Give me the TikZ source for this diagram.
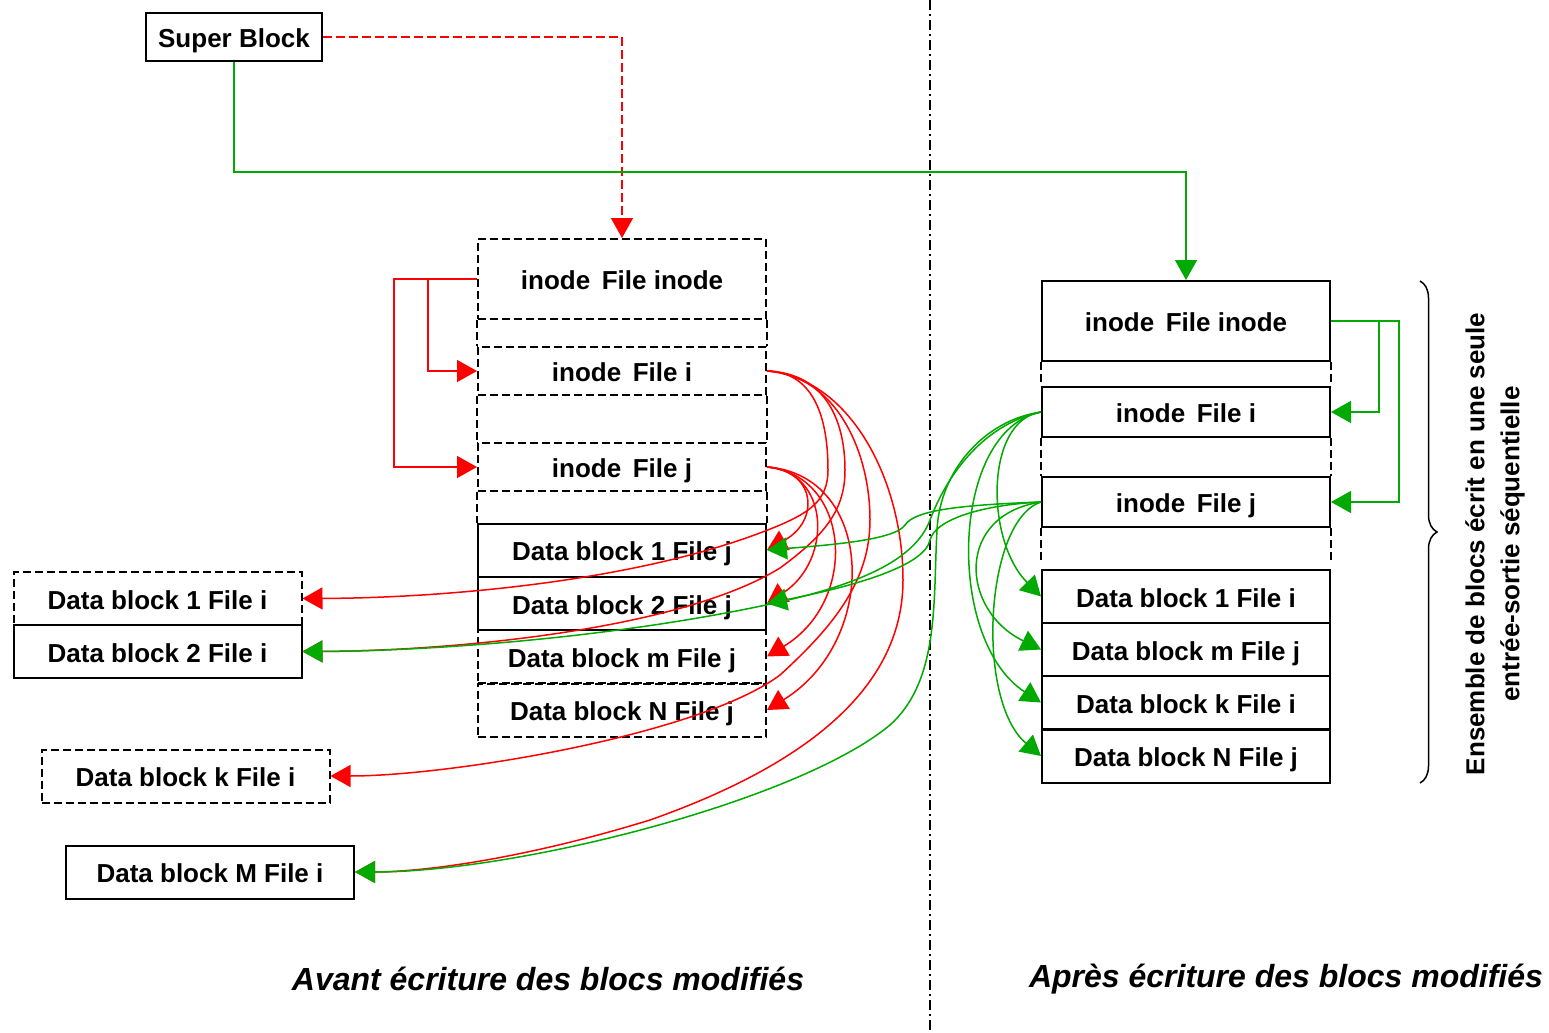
\documentclass[tikz,border=0pt]{standalone}
\usepackage{fontspec}
\setmainfont{Liberation Sans}
\usetikzlibrary{arrows.meta}
\usetikzlibrary{decorations.pathreplacing}
\tikzset{endarrow/.style = {-{Triangle[length=10pt, width=11pt]}}}
\tikzset{block/.style = {draw, line width=1pt, inner sep=0pt,
                         minimum width=144pt, minimum height=26.5pt,
                         text height=11.5pt, text depth=1pt,
                         font=\bfseries\fontsize{13}{15}\selectfont}}
\tikzset{oldblock/.style = {block, dash pattern=on 4pt off 2pt}}
\tikzset{rlink/.style = {mred, line width=0.75pt, endarrow}}
\tikzset{glink/.style = {mgreen, line width=0.75pt, endarrow}}
\definecolor{mred}{rgb}{1, 0, 0}
\definecolor{mgreen}{RGB}{0, 170, 0}

\begin{document}
\begin{tikzpicture}[x=0.5pt, y=-0.5pt]
    \useasboundingbox (0, 0) rectangle (1549, 1033);

    \node [block, minimum width=88pt, minimum height=24pt] (super) at (234, 37) {Super Block};

    % avant
    \node [oldblock, minimum height=40pt] (av-inodes) at (622, 279) {inode\, File inode};
    \node [oldblock, minimum height=24pt] (av-fi) at (622, 371) {inode\, File i};
    \node [oldblock, minimum height=24pt] (av-fj) at (622, 467) {inode\, File j};
    \node [block] (av-d1j) at (622, 550) {Data block 1 File j};
    \node [block] (av-d2j) at (622, 603.5) {Data block 2 File j};
    \node [oldblock] (av-dmj) at (622, 656.5) {Data block m File j};
    \node [oldblock] (av-dNj) at (622, 710) {Data block N File j};

    \node [oldblock] (av-d1i) at (157.5, 598.5) {Data block 1 File i};
    \node [block] (av-d2i) at (157.5, 651.5) {Data block 2 File i};
    \node [oldblock] (av-dki) at (185.5, 776) {Data block k File i};
    \node [block] (av-dMi) at (210, 872) {Data block M File i};

    \draw [dash pattern=on 4pt off 2pt, line width=1pt] (av-inodes.south west) -- (av-fi.north west)
        (av-inodes.south east) -- (av-fi.north east)
        (av-fi.south west) -- (av-fj.north west) (av-fi.south east) -- (av-fj.north east)
        (av-fj.south west) -- (av-d1j.north west) (av-fj.south east) -- (av-d1j.north east);

    % apres
    \node [block, minimum height=40pt] (ap-inodes) at (1186, 321) {inode\, File inode};
    \node [block, minimum height=25pt] (ap-fi) at (1186, 412) {inode\, File i};
    \node [block, minimum height=25pt] (ap-fj) at (1186, 502) {inode\, File j};
    \node [block] (ap-d1i) at (1186, 596.5) {Data block 1 File i};
    \node [block] (ap-dmj) at (1186, 649.5) {Data block m File j};
    \node [block] (ap-dki) at (1186, 702.5) {Data block k File i};
    \node [block] (ap-dNj) at (1186, 756) {Data block N File j};

    \draw [dash pattern=on 4pt off 2pt, line width=1pt] (ap-inodes.south west) -- (ap-fi.north west)
        (ap-inodes.south east) -- (ap-fi.north east)
        (ap-fi.south west) -- (ap-fj.north west) (ap-fi.south east) -- (ap-fj.north east)
        (ap-fj.south west) -- ++(0, 33) (ap-fj.south east) -- ++(0, 33);

    \draw [dash pattern=on 5pt off 2pt on 1pt off 2pt, line width=0.6pt] (930, 0) -- (930, 1033);

    \draw [decorate, decoration={brace, amplitude=8.5pt}, line width=0.75pt] (1420, 281) -- (1420, 783);
    \node [rotate=90, align=center, font=\bfseries\fontsize{13}{17.5}\selectfont] (ensemble) at (1495, 544)
        {Ensemble de blocs écrit en une seule\\entrée-sortie séquentielle};

    \node [font=\bfseries\itshape\fontsize{16}{19}\selectfont] (avant) at (548, 979) {Avant écriture des blocs modifiés};
    \node [font=\bfseries\itshape\fontsize{16}{19}\selectfont] (apres) at (1286, 979) {Après écriture des blocs modifiés};

    % super block
    \draw [rlink, dash pattern=on 4.5pt off 2pt] (super.east) -| (av-inodes.north);
    \draw [glink] (super.south) -- ++(0, 110) -| (ap-inodes.north);

    \draw [rlink] (av-inodes.west) -- ++(-83, 0) |- (av-fj.west);
    \draw [rlink] (av-inodes.west) -- ++(-49, 0) |- (av-fi.west);
    \draw [glink] (ap-inodes.east) -- ++(68, 0) |- (ap-fj.east);
    \draw [glink] (ap-inodes.east) -- ++(48, 0) |- (ap-fi.east);

    % inode File i, avant
    \draw [rlink] (av-fi.east) .. controls (815, 372) and (828, 420) .. (828, 470)
        .. controls (828, 500) and (810, 512) .. (780, 525)
        .. controls (650, 580) and (450, 598) .. (av-d1i.east);
    \draw [rlink] (av-fi.east) .. controls (825, 373) and (845, 420) .. (845, 470)
        .. controls (845, 510) and (825, 535) .. (780, 568)
        .. controls (680, 630) and (450, 651) .. (av-d2i.east);
    \draw [rlink] (av-fi.east) .. controls (835, 375) and (870, 450) .. (870, 520)
        .. controls (870, 580) and (835, 625) .. (780, 675)
        .. controls (700, 735) and (450, 776) .. (av-dki.east);
    \draw [rlink] (av-fi.east) .. controls (850, 378) and (903, 480) .. (903, 580)
        .. controls (903, 680) and (820, 760) .. (650, 820)
        .. controls (520, 860) and (420, 872) .. (av-dMi.east);

    % inode File j, avant
    \draw [rlink] (av-fj.east) .. controls (815, 470) and (821, 520) .. (av-d1j.east);
    \draw [rlink] (av-fj.east) .. controls (830, 472) and (833, 560) .. (av-d2j.east);
    \draw [rlink] (av-fj.east) .. controls (850, 475) and (860, 600) .. (av-dmj.east);
    \draw [rlink] (av-fj.east) .. controls (875, 475) and (880, 640) .. (av-dNj.east);

    % apres
    \draw [glink] (ap-fi.west) .. controls (985, 420) and (940, 470) .. (937, 530)
        .. controls (933, 600) and (940, 680) .. (890, 725)
        .. controls (800, 800) and (520, 872) .. (av-dMi.east);
    \draw [glink] (ap-fi.west) .. controls (980, 425) and (945, 480) .. (930, 520)
        .. controls (915, 560) and (860, 585) .. (766, 605)
        .. controls (600, 640) and (420, 651) .. (av-d2i.east);
    \draw [glink] (ap-fj.west) .. controls (960, 505) and (915, 510) .. (905, 525)
        .. controls (895, 540) and (830, 545) .. (av-d1j.east);
    \draw [glink] (ap-fj.west) .. controls (980, 505) and (935, 520) .. (930, 540)
        .. controls (925, 565) and (860, 585) .. (av-d2j.east);

    \draw [glink] (ap-fi.west) .. controls (985, 420) and (985, 540) .. (ap-d1i.west);
    \draw [glink] (ap-fj.west) .. controls (955, 515) and (960, 610) .. (ap-dmj.west);
    \draw [glink] (ap-fi.west) .. controls (950, 430) and (945, 640) .. (ap-dki.west);
    \draw [glink] (ap-fj.west) .. controls (985, 520) and (975, 700) .. (ap-dNj.west);
\end{tikzpicture}
\end{document}
